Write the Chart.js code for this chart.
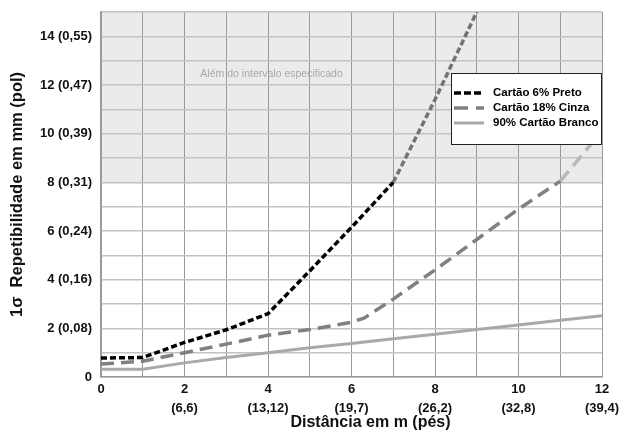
<!DOCTYPE html>
<html>
<head>
<meta charset="utf-8">
<script src="https://cdn.jsdelivr.net/npm/chart.js@4.4.1/dist/chart.umd.min.js"></script>
<style>
  html, body { margin: 0; padding: 0; background: #fff; }
  #wrap { width: 622px; height: 434px; }
</style>
</head>
<body>
<div id="wrap"><canvas id="chart" width="622" height="434"></canvas></div>
<script>
// data (distance in m, repeatability in mm)
const blackX = [0, 1, 2, 3, 4, 5, 6, 7, 8, 9];
const blackY = [0.78, 0.8, 1.42, 1.94, 2.6, 4.36, 6.15, 8, 11.4, 15];
const grayX = [0, 1, 2, 3, 4, 5, 6, 6.3, 7, 8, 9, 10, 11, 12];
const grayY = [0.53, 0.65, 1.0, 1.35, 1.72, 1.95, 2.25, 2.42, 3.2, 4.4, 5.65, 6.9, 8.05, 10.1];
const whiteX = [0, 1, 2, 3, 4, 5, 6, 7, 8, 9, 10, 11, 12];
const whiteY = [0.32, 0.32, 0.58, 0.8, 1.0, 1.2, 1.38, 1.57, 1.76, 1.95, 2.14, 2.33, 2.52];

const seriesLabels = ['Cartão 6% Preto', 'Cartão 18% Cinza', '90% Cartão Branco'];
const xTickMeters = [2, 4, 6, 8, 10, 12];
const xTickFeet = ['(6,6)', '(13,12)', '(19,7)', '(26,2)', '(32,8)', '(39,4)'];
const yTickMm = [2, 4, 6, 8, 10, 12, 14];
const yTickIn = ['(0,08)', '(0,16)', '(0,24)', '(0,31)', '(0,39)', '(0,47)', '(0,55)'];
const rangeLimit = 8; // above this: "Além do intervalo especificado"
const xTitle = 'Distância em m (pés)';

const FONT = '"Liberation Sans", Arial, sans-serif';
const pts = (xs, ys) => xs.map((x, i) => ({ x, y: ys[i] }));

const shadePlugin = {
  id: 'shade',
  beforeDraw(chart) {
    const { ctx, chartArea: a, scales: { x, y } } = chart;
    ctx.save();
    ctx.fillStyle = '#fff';
    ctx.fillRect(0, 0, chart.width, chart.height);
    const top = y.getPixelForValue(y.max), lim = y.getPixelForValue(rangeLimit);
    ctx.fillStyle = '#ebebeb';
    ctx.fillRect(a.left, top, a.right - a.left, lim - top);
    ctx.fillStyle = '#a8a8a8';
    ctx.font = '10.5px ' + FONT;
    ctx.textBaseline = 'middle';
    ctx.fillText('Além do intervalo especificado', x.getPixelForValue(2.38), y.getPixelForValue(12.43));
    ctx.restore();
  },
  afterDraw(chart) {
    // x axis title sits a bit right of the plot centre in the original
    const { ctx, chartArea: a } = chart;
    ctx.save();
    ctx.fillStyle = '#111';
    ctx.font = 'bold 16px ' + FONT;
    ctx.textAlign = 'center';
    ctx.textBaseline = 'middle';
    ctx.fillText(xTitle, (a.left + a.right) / 2 + 19, chart.height - 11);
    ctx.restore();
  }
};

const legendPlugin = {
  id: 'boxLegend',
  afterDraw(chart) {
    const { ctx, chartArea: a } = chart;
    const bx = a.right - 151, by = 73, bw = 151, bh = 72;
    ctx.save();
    ctx.fillStyle = '#fff';
    ctx.fillRect(bx, by, bw, bh);
    ctx.strokeStyle = '#222';
    ctx.lineWidth = 1;
    ctx.strokeRect(bx + 0.5, by + 0.5, bw - 1, bh - 1);
    ctx.font = 'bold 11.5px ' + FONT;
    ctx.textBaseline = 'middle';
    chart.data.datasets.forEach((ds, i) => {
      const yy = by + 20 + i * 15;
      ctx.strokeStyle = ds.borderColor;
      ctx.lineWidth = ds.borderWidth;
      ctx.setLineDash(ds.legendDash || []);
      ctx.beginPath();
      ctx.moveTo(bx + 3, yy);
      ctx.lineTo(bx + 33, yy);
      ctx.stroke();
      ctx.setLineDash([]);
      ctx.fillStyle = '#000';
      ctx.fillText(ds.label, bx + 42, yy);
    });
    ctx.restore();
  }
};

const overLimit = (base, beyond) => c => (c.p0.parsed.y >= rangeLimit - 0.01 ? beyond : base);

new Chart(document.getElementById('chart').getContext('2d'), {
  type: 'line',
  data: {
    datasets: [
      { label: seriesLabels[0], data: pts(blackX, blackY), borderColor: '#000', borderWidth: 3.5,
        borderDash: [6, 3], legendDash: [7, 3], segment: { borderColor: overLimit('#000', '#737373') } },
      { label: seriesLabels[1], data: pts(grayX, grayY), borderColor: '#808080', borderWidth: 3.5,
        borderDash: [13, 7], legendDash: [14, 8], segment: { borderColor: overLimit('#808080', '#b8b8b8') } },
      { label: seriesLabels[2], data: pts(whiteX, whiteY), borderColor: '#a9a9a9', borderWidth: 3 }
    ]
  },
  options: {
    responsive: false, animation: false,
    elements: { point: { radius: 0, hoverRadius: 0 }, line: { tension: 0, capBezierPoints: false } },
    layout: { padding: { left: 0, right: 20, top: 12, bottom: 0 } },
    plugins: { legend: { display: false }, tooltip: { enabled: false } },
    scales: {
      x: {
        type: 'linear', min: 0, max: 12,
        afterFit: s => { s.height = 57; },
        grid: { color: '#9a9a9a', lineWidth: 1, drawTicks: false },
        border: { color: '#9a9a9a', width: 1.5 },
        ticks: {
          stepSize: 1, autoSkip: false, maxRotation: 0, padding: 3, color: '#111',
          font: { family: FONT, size: 13, weight: 'bold', lineHeight: 1.45 },
          callback: v => {
            if (v === 0) return '0';
            const i = xTickMeters.indexOf(v);
            return i < 0 ? '' : [String(v), xTickFeet[i]];
          }
        }
      },
      y: {
        min: 0, max: 15,
        afterFit: s => { s.width = 101; s.paddingTop = 0; s.paddingBottom = 0; },
        grid: { color: '#c2c2c2', lineWidth: 1.5, drawTicks: false },
        border: { color: '#9a9a9a', width: 1.5 },
        ticks: {
          stepSize: 1, autoSkip: false, padding: 9, color: '#111',
          font: { family: FONT, size: 13, weight: 'bold' },
          callback: v => {
            if (v === 0) return '0';
            const i = yTickMm.indexOf(v);
            return i < 0 ? '' : `${v} ${yTickIn[i]}`;
          }
        },
        title: { display: true, text: '1σ  Repetibilidade em mm (pol)', color: '#111',
          font: { family: FONT, size: 16.5, weight: 'bold' }, padding: { top: 8, bottom: 0 } }
      }
    }
  },
  plugins: [shadePlugin, legendPlugin]
});
</script>
</body>
</html>
